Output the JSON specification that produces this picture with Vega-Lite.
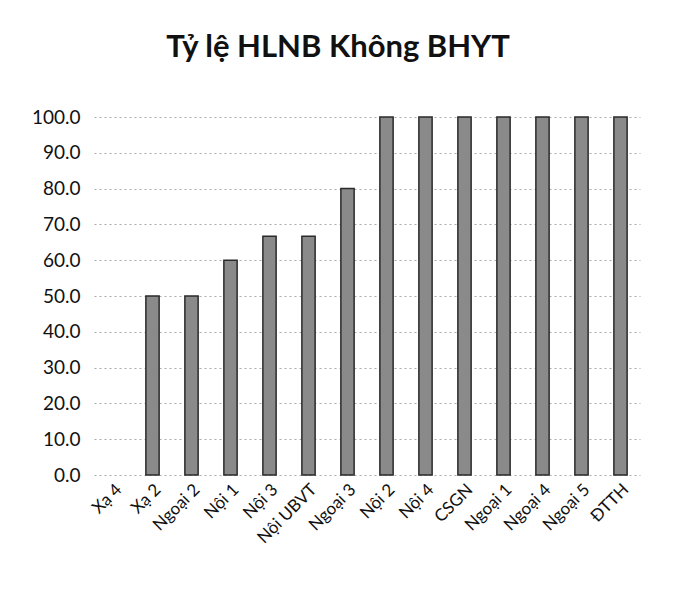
{
  "$schema": "https://vega.github.io/schema/vega-lite/v6.json",
  "autosize": {"type": "none"},
  "width": 546,
  "height": 358,
  "padding": {"left": 94, "top": 117, "right": 33, "bottom": 117},
  "background": "white",
  "title": {
    "text": "Tỷ lệ HLNB Không BHYT",
    "font": "Lato",
    "fontSize": 31,
    "fontWeight": "bold",
    "color": "#111",
    "anchor": "middle",
    "dx": -29,
    "offset": 44
  },
  "data": {
    "values": [
      {"khoa": "Xạ 4", "tyle": 0},
      {"khoa": "Xạ 2", "tyle": 50},
      {"khoa": "Ngoại 2", "tyle": 50},
      {"khoa": "Nội 1", "tyle": 60},
      {"khoa": "Nội 3", "tyle": 66.7},
      {"khoa": "Nội UBVT", "tyle": 66.7},
      {"khoa": "Ngoại 3", "tyle": 80},
      {"khoa": "Nội 2", "tyle": 100},
      {"khoa": "Nội 4", "tyle": 100},
      {"khoa": "CSGN", "tyle": 100},
      {"khoa": "Ngoại 1", "tyle": 100},
      {"khoa": "Ngoại 4", "tyle": 100},
      {"khoa": "Ngoại 5", "tyle": 100},
      {"khoa": "ĐTTH", "tyle": 100}
    ]
  },
  "mark": {"type": "bar", "fill": "#8a8a8a", "stroke": "#2a2a2a", "strokeWidth": 1.5},
  "encoding": {
    "x": {
      "field": "khoa",
      "type": "nominal",
      "sort": null,
      "scale": {"paddingInner": 0.66, "paddingOuter": 0.33},
      "axis": {
        "title": null,
        "labelAngle": -45,
        "labelFont": "Lato",
        "labelFontSize": 17,
        "labelColor": "#111",
        "domain": false,
        "ticks": false,
        "labelPadding": 6
      }
    },
    "y": {
      "field": "tyle",
      "type": "quantitative",
      "scale": {"domain": [0, 100]},
      "axis": {
        "title": null,
        "values": [0, 10, 20, 30, 40, 50, 60, 70, 80, 90, 100],
        "format": ".1f",
        "labelFont": "Lato",
        "labelFontSize": 19,
        "labelColor": "#111",
        "labelPadding": 14,
        "domain": false,
        "ticks": false,
        "grid": true,
        "gridColor": "#aaaaaa",
        "gridDash": [2, 3],
        "gridWidth": 1
      }
    },
    "strokeOpacity": {
      "condition": {"test": "datum.tyle > 0", "value": 1},
      "value": 0
    }
  },
  "config": {"view": {"stroke": null}}
}
